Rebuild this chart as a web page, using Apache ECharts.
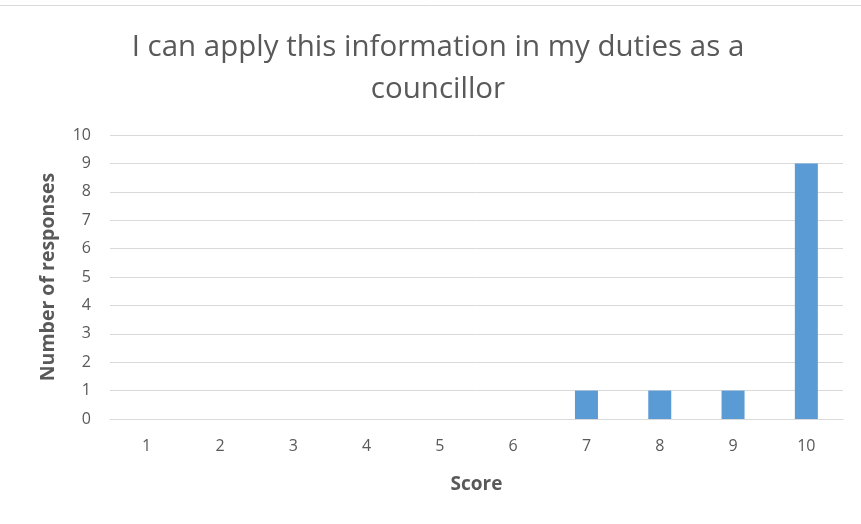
<!DOCTYPE html>
<html>
<head>
<meta charset="utf-8">
<script src="https://cdn.jsdelivr.net/npm/echarts@6/dist/echarts.min.js"></script>
<style>
  html, body { margin: 0; padding: 0; background: #fff; }
  #chart { width: 861px; height: 524px; }
</style>
</head>
<body>
<div id="chart"></div>
<script>
// scores 1..10 and how many people gave each
const scores = ['1', '2', '3', '4', '5', '6', '7', '8', '9', '10'];
const responses = [0, 0, 0, 0, 0, 0, 1, 1, 1, 9];
const yTicks = [0, 10, 1]; // min, max, step

const txt = '#595959';
const chart = echarts.init(document.getElementById('chart'));
chart.setOption({
  animation: false,
  textStyle: { fontFamily: 'Open Sans' },
  title: {
    text: 'I can apply this information in my duties as a\ncouncillor',
    left: 433,
    textAlign: 'center',
    top: 22,
    textStyle: { color: txt, fontSize: 29.5, fontWeight: 'normal', lineHeight: 42, fontFamily: 'Open Sans' }
  },
  graphic: [{
    type: 'line',
    shape: { x1: 0, y1: 5.5, x2: 861, y2: 5.5 },
    style: { stroke: '#d9d9d9', lineWidth: 1 }
  }],
  grid: { left: 110, right: 18, top: 135, bottom: 105 },
  xAxis: {
    type: 'category',
    data: scores,
    name: 'Score',
    nameLocation: 'middle',
    nameGap: 56,
    nameTextStyle: { color: txt, fontSize: 19, fontWeight: 'bold' },
    axisLine: { lineStyle: { color: '#d9d9d9' } },
    axisTick: { show: false },
    axisLabel: { color: txt, fontSize: 16, margin: 19 }
  },
  yAxis: {
    type: 'value',
    min: yTicks[0],
    max: yTicks[1],
    interval: yTicks[2],
    name: 'Number of responses',
    nameLocation: 'middle',
    nameGap: 52,
    nameTextStyle: { color: txt, fontSize: 19.5, fontWeight: 'bold' },
    axisLine: { show: false },
    axisTick: { show: false },
    axisLabel: { color: txt, fontSize: 16, margin: 19 },
    splitLine: { lineStyle: { color: '#d9d9d9' } }
  },
  series: [{
    type: 'bar',
    data: responses,
    barWidth: 23,
    itemStyle: { color: '#5b9bd5' }
  }]
});
</script>
</body>
</html>
